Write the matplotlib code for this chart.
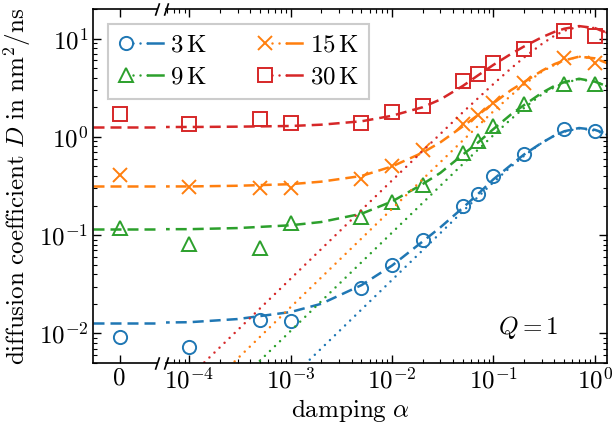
import matplotlib
matplotlib.use('Agg')
import matplotlib.pyplot as plt
from matplotlib.lines import Line2D
from matplotlib.legend_handler import HandlerTuple

plt.rcParams['mathtext.fontset'] = 'cm'
plt.rcParams['font.family'] = 'serif'
plt.rcParams['font.serif'] = ['cmr10', 'DejaVu Serif']
plt.rcParams['axes.formatter.use_mathtext'] = True
plt.rcParams['font.size'] = 18

# measured damping values (zero damping shown on the separate left axis)
alpha = [1e-4, 5e-4, 1e-3, 5e-3, 1e-2, 2e-2, 5e-2, 7e-2, 0.1, 0.2, 0.5, 1.0]

temps = ['3', '9', '15', '30']
colors = ['#1f77b4', '#2ca02c', '#ff7f0e', '#d62728']
markers = ['o', '^', 'x', 's']

# simulation data
D_zero = [0.0091, 0.118, 0.41, 1.71]
D_3K = [0.0072, 0.0138, 0.0135, 0.029, 0.050, 0.089, 0.196, 0.26, 0.40, 0.67, 1.20, 1.15]
D_9K = [0.082, 0.074, 0.132, 0.152, 0.215, 0.32, 0.69, 0.91, 1.29, 2.15, 3.43, 3.43]
D_15K = [0.31, 0.305, 0.30, 0.37, 0.50, 0.73, 1.36, 1.65, 2.2, 3.5, 6.3, 5.65]
D_30K = [1.35, 1.52, 1.37, 1.40, 1.78, 2.08, 3.68, 4.33, 5.7, 7.9, 12.0, 10.7]

# dashed model curves
alpha_dash = [5e-5, 1e-4, 3e-4, 1e-3, 2e-3, 5e-3, 1e-2, 2e-2, 3e-2, 5e-2, 7e-2,
              0.1, 0.15, 0.2, 0.3, 0.4, 0.5, 0.7, 1.0, 1.4]
dash_3K = [0.0129, 0.013, 0.014, 0.0165, 0.020, 0.031, 0.049, 0.086, 0.12, 0.19, 0.26,
           0.37, 0.52, 0.66, 0.87, 1.03, 1.14, 1.23, 1.18, 1.05]
dash_9K = [0.115, 0.115, 0.118, 0.126, 0.136, 0.165, 0.22, 0.33, 0.43, 0.66, 0.87,
           1.2, 1.7, 2.1, 2.8, 3.3, 3.6, 3.9, 3.65, 3.2]
dash_15K = [0.313, 0.313, 0.318, 0.33, 0.35, 0.40, 0.50, 0.69, 0.88, 1.28, 1.66,
            2.2, 3.0, 3.6, 4.7, 5.5, 6.0, 6.55, 6.3, 5.5]
dash_30K = [1.26, 1.26, 1.27, 1.29, 1.33, 1.44, 1.64, 2.0, 2.4, 3.3, 4.2,
            5.4, 7.0, 8.3, 10.3, 11.7, 12.6, 13.4, 12.8, 11.2]

# dotted model curves
alpha_dot = [1e-4, 1e-2, 5e-2, 0.1, 0.15, 0.2, 0.3, 0.4, 0.5, 0.7, 1.0, 1.4]
dot_3K = [3.5e-4, 0.035, 0.175, 0.345, 0.50, 0.64, 0.87, 1.03, 1.13, 1.22, 1.16, 1.03]
dot_9K = [1.06e-3, 0.106, 0.53, 1.04, 1.52, 1.96, 2.7, 3.2, 3.55, 3.85, 3.65, 3.2]
dot_15K = [1.85e-3, 0.185, 0.92, 1.82, 2.65, 3.4, 4.6, 5.4, 6.0, 6.55, 6.3, 5.5]
dot_30K = [3.6e-3, 0.36, 1.78, 3.45, 5.0, 6.4, 8.8, 10.7, 12.0, 13.3, 12.8, 11.2]

D_all = [D_3K, D_9K, D_15K, D_30K]
dash_all = [dash_3K, dash_9K, dash_15K, dash_30K]
dot_all = [dot_3K, dot_9K, dot_15K, dot_30K]

fig = plt.figure(figsize=(6.13, 4.32), dpi=100)
x0, x1, x2, x3 = 93 / 613, 157 / 613, 166 / 613, 607 / 613
bot, top = 1 - 363 / 432, 1 - 9 / 432
ax0 = fig.add_axes([x0, bot, x1 - x0, top - bot])
ax1 = fig.add_axes([x2, bot, x3 - x2, top - bot], sharey=ax0)

dash_style = (0, (4.4, 2.4))
dot_style = (0, (0.01, 2.8))
handles = []
for i in range(4):
    c = colors[i]
    mk = dict(marker=markers[i], ms=9.5, mfc='none', mec=c, mew=1.4, ls='none')
    # left axis: zero damping
    ax0.plot([-1, 1.4], [dash_all[i][0], dash_all[i][0]], color=c, lw=1.8, ls=dash_style)
    ax0.plot([0], [D_zero[i]], **mk)
    # right axis: log damping
    ax1.plot(alpha_dash, dash_all[i], color=c, lw=1.8, ls=dash_style)
    ax1.plot(alpha_dot, dot_all[i], color=c, lw=1.8, ls=dot_style, dash_capstyle='round')
    ax1.plot(alpha, D_all[i], **mk)
    h = (Line2D([], [], **mk),
         Line2D([], [], color=c, lw=1.8, ls=dot_style, dash_capstyle='round'),
         Line2D([], [], color=c, lw=1.8, ls='-'))
    handles.append(h)

ax0.set_yscale('log')
ax0.set_ylim(5e-3, 20)
ax0.set_xlim(-1, 1.4)
ax0.set_xticks([0])
ax0.set_xticklabels(['0'])
ax1.set_xscale('log')
ax1.set_xlim(5.9e-5, 1.32)

ax0.spines['right'].set_visible(False)
ax1.spines['left'].set_visible(False)
ax0.tick_params(which='both', direction='in', top=True, right=False)
ax0.tick_params(which='major', length=5.5, width=1)
ax0.tick_params(which='minor', length=3, width=0.8)
ax0.tick_params(axis='x', which='minor', top=False, bottom=False)
ax1.tick_params(which='both', direction='in', top=True, right=True, left=False, labelleft=False)
ax1.tick_params(which='major', length=5.5, width=1)
ax1.tick_params(which='minor', length=3, width=0.8)
for ax in (ax0, ax1):
    for s in ax.spines.values():
        s.set_linewidth(1.2)

# break marks
kw = dict(marker=[(-1, -3), (1, 3)], markersize=9, linestyle='none', color='k',
          mec='k', mew=1.2, clip_on=False)
ax0.plot([1, 1], [0, 1], transform=ax0.transAxes, **kw)
ax1.plot([0, 0], [0, 1], transform=ax1.transAxes, **kw)

ax1.text(0.89, 0.1, r'$Q = 1$', transform=ax1.transAxes, ha='right', va='center')

fig.text((x0 + x3) / 2, 1 - 410 / 432, r'$\mathrm{damping}\ \alpha$', ha='center', va='center')
fig.text(17 / 613, (bot + top) / 2, r'$\mathrm{diffusion\ coefficient}\ D\ \mathrm{in\ nm^2/ns}$',
         rotation=90, ha='center', va='center')

labels = [r'$' + t + r'\,\mathrm{K}$' for t in temps]
leg = fig.legend(handles, labels,
                 handler_map={tuple: HandlerTuple(ndivide=None, pad=0.0)},
                 loc='upper left', bbox_to_anchor=(108 / 613, 1 - 24 / 432), ncol=2,
                 borderaxespad=0, handlelength=1.8, columnspacing=2.0, fancybox=False,
                 framealpha=1, edgecolor='#cccccc', borderpad=0.4, labelspacing=0.4,
                 handletextpad=0.3)
leg.get_frame().set_linewidth(1.5)

fig.savefig('out.png', dpi=100)
